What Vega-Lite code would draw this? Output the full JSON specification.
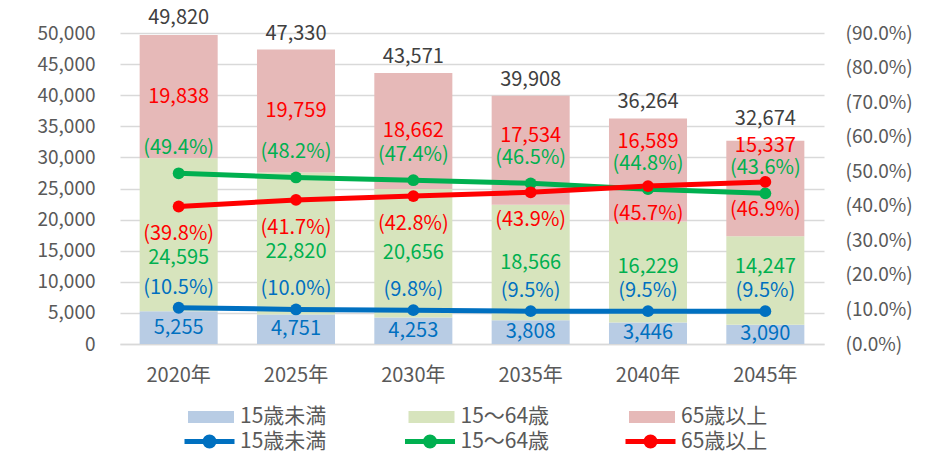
{
  "$schema": "https://vega.github.io/schema/vega-lite/v6.json",
  "width": 704,
  "height": 311,
  "autosize": {"type": "none"},
  "padding": {"left": 120, "top": 33, "right": 117, "bottom": 113},
  "background": "white",
  "config": {
    "font": "Noto Sans CJK JP",
    "view": {"stroke": null},
    "legend": {"padding": 0}
  },
  "datasets": {
    "pop": [
      {"year": "2020年", "group": "15歳未満", "order": 1, "value": 5255, "pct": 0.105},
      {"year": "2020年", "group": "15〜64歳", "order": 2, "value": 24595, "pct": 0.494},
      {"year": "2020年", "group": "65歳以上", "order": 3, "value": 19838, "pct": 0.398},
      {"year": "2025年", "group": "15歳未満", "order": 1, "value": 4751, "pct": 0.100},
      {"year": "2025年", "group": "15〜64歳", "order": 2, "value": 22820, "pct": 0.482},
      {"year": "2025年", "group": "65歳以上", "order": 3, "value": 19759, "pct": 0.417},
      {"year": "2030年", "group": "15歳未満", "order": 1, "value": 4253, "pct": 0.098},
      {"year": "2030年", "group": "15〜64歳", "order": 2, "value": 20656, "pct": 0.474},
      {"year": "2030年", "group": "65歳以上", "order": 3, "value": 18662, "pct": 0.428},
      {"year": "2035年", "group": "15歳未満", "order": 1, "value": 3808, "pct": 0.095},
      {"year": "2035年", "group": "15〜64歳", "order": 2, "value": 18566, "pct": 0.465},
      {"year": "2035年", "group": "65歳以上", "order": 3, "value": 17534, "pct": 0.439},
      {"year": "2040年", "group": "15歳未満", "order": 1, "value": 3446, "pct": 0.095},
      {"year": "2040年", "group": "15〜64歳", "order": 2, "value": 16229, "pct": 0.448},
      {"year": "2040年", "group": "65歳以上", "order": 3, "value": 16589, "pct": 0.457},
      {"year": "2045年", "group": "15歳未満", "order": 1, "value": 3090, "pct": 0.095},
      {"year": "2045年", "group": "15〜64歳", "order": 2, "value": 14247, "pct": 0.436},
      {"year": "2045年", "group": "65歳以上", "order": 3, "value": 15337, "pct": 0.469}
    ],
    "tot": [
      {"year": "2020年", "total": 49820},
      {"year": "2025年", "total": 47330},
      {"year": "2030年", "total": 43571},
      {"year": "2035年", "total": 39908},
      {"year": "2040年", "total": 36264},
      {"year": "2045年", "total": 32674}
    ]
  },
  "resolve": {"scale": {"y": "independent", "color": "independent"}},
  "layer": [
    {
      "encoding": {
        "x": {
          "field": "year", "type": "nominal",
          "scale": {"domain": ["2020年", "2025年", "2030年", "2035年", "2040年", "2045年"], "paddingInner": 0.335, "paddingOuter": 0.1675},
          "axis": {"title": null, "labelAngle": 0, "ticks": false, "tickSize": 0, "domain": true, "domainColor": "#d9d9d9", "domainWidth": 1.5, "labelPadding": 21, "labelFontSize": 20, "labelColor": "#595959", "grid": false}
        }
      },
      "layer": [
        {
          "data": {"name": "pop"},
          "mark": {"type": "bar"},
          "encoding": {
            "y": {
              "field": "value", "type": "quantitative", "stack": "zero",
              "scale": {"domain": [0, 50000]},
              "axis": {"title": null, "values": [0, 5000, 10000, 15000, 20000, 25000, 30000, 35000, 40000, 45000, 50000], "labelExpr": "format(datum.value, ',')", "labelOverlap": false, "labelBound": false, "grid": true, "gridColor": "#d9d9d9", "gridWidth": 1.5, "domain": false, "ticks": false, "tickSize": 0, "labelPadding": 25, "labelFontSize": 19, "labelColor": "#595959"}
            },
            "order": {"field": "order", "type": "quantitative"},
            "color": {
              "field": "group", "type": "nominal",
              "scale": {"domain": ["15歳未満", "15〜64歳", "65歳以上"], "range": ["#b8cce4", "#d7e4bd", "#e6b9b8"]},
              "legend": {"title": null, "orient": "none", "legendX": 68, "legendY": 361, "direction": "horizontal", "columns": 3, "gridAlign": "all", "columnPadding": 79.5, "symbolType": "M-1,-0.26H1V0.26H-1Z", "symbolSize": 2116, "symbolStrokeWidth": 0, "labelOffset": 6, "labelFontSize": 21, "labelColor": "#595959", "labelLimit": 300}
            }
          }
        },
        {
          "data": {"name": "pop"},
          "transform": [
            {"stack": "value", "groupby": ["year"], "sort": [{"field": "order", "order": "ascending"}], "as": ["v0", "v1"]},
            {"calculate": "datum.group == '15〜64歳' ? datum.pct : 0", "as": "gp"},
            {"calculate": "datum.group == '65歳以上' ? datum.pct : 0", "as": "rp"},
            {"calculate": "datum.group == '15歳未満' ? datum.pct : 0", "as": "bp"},
            {"joinaggregate": [
              {"op": "max", "field": "gp", "as": "greenPct"},
              {"op": "max", "field": "rp", "as": "redPct"},
              {"op": "max", "field": "bp", "as": "bluePct"}
            ], "groupby": ["year"]},
            {"calculate": "(datum.v0 + datum.v1) / 2", "as": "mid"},
            {"calculate": "datum.group == '65歳以上' ? max(datum.mid, datum.greenPct * 50000 / 0.9 + 7556) : (datum.group == '15〜64歳' ? max(min(datum.mid, datum.redPct * 50000 / 0.9 - 8360), datum.bluePct * 50000 / 0.9 + 7073) : datum.mid)", "as": "labelPos"},
            {"lookup": "year", "from": {"data": {"name": "tot"}, "key": "year", "fields": ["total"]}},
            {"calculate": "max(datum.total + 2572, datum.labelPos + 4341)", "as": "totalPos"}
          ],
          "layer": [
            {
              "mark": {"type": "text", "fontSize": 20, "baseline": "middle"},
              "encoding": {
                "y": {
                  "field": "labelPos", "type": "quantitative", "scale": {"domain": [0, 50000]},
                  "axis": {"title": null, "values": [0, 5000, 10000, 15000, 20000, 25000, 30000, 35000, 40000, 45000, 50000], "labelExpr": "format(datum.value, ',')", "labelOverlap": false, "labelBound": false, "grid": true, "gridColor": "#d9d9d9", "gridWidth": 1.5, "domain": false, "ticks": false, "tickSize": 0, "labelPadding": 25, "labelFontSize": 19, "labelColor": "#595959"}
                },
                "text": {"field": "value", "type": "quantitative", "format": ","},
                "fill": {
                  "field": "group", "type": "nominal",
                  "scale": {"domain": ["15歳未満", "15〜64歳", "65歳以上"], "range": ["#0070c0", "#00b050", "#ff0000"]},
                  "legend": null
                }
              }
            },
            {
              "transform": [{"filter": "datum.group == '65歳以上'"}],
              "mark": {"type": "text", "fontSize": 20, "baseline": "middle", "color": "#404040"},
              "encoding": {
                "y": {
                  "field": "totalPos", "type": "quantitative", "scale": {"domain": [0, 50000]},
                  "axis": {"title": null, "values": [0, 5000, 10000, 15000, 20000, 25000, 30000, 35000, 40000, 45000, 50000], "labelExpr": "format(datum.value, ',')", "labelOverlap": false, "labelBound": false, "grid": true, "gridColor": "#d9d9d9", "gridWidth": 1.5, "domain": false, "ticks": false, "tickSize": 0, "labelPadding": 25, "labelFontSize": 19, "labelColor": "#595959"}
                },
                "text": {"field": "total", "type": "quantitative", "format": ","}
              }
            }
          ]
        }
      ]
    },
    {
      "data": {"name": "pop"},
      "transform": [
        {"calculate": "'(' + format(datum.pct, '.1%') + ')'", "as": "pctLabel"}
      ],
      "encoding": {
        "x": {"field": "year", "type": "nominal"},
        "y": {
          "field": "pct", "type": "quantitative",
          "scale": {"domain": [0, 0.9]},
          "axis": {"orient": "right", "title": null, "values": [0, 0.1, 0.2, 0.3, 0.4, 0.5, 0.6, 0.7, 0.8, 0.9], "labelExpr": "'(' + format(datum.value, '.1%') + ')'", "labelOverlap": false, "labelBound": false, "grid": false, "domain": false, "ticks": false, "tickSize": 0, "labelPadding": 21, "labelFontSize": 19, "labelColor": "#595959"}
        }
      },
      "layer": [
        {
          "mark": {"type": "line", "strokeWidth": 5},
          "encoding": {
            "color": {
              "field": "group", "type": "nominal",
              "scale": {"domain": ["15歳未満", "15〜64歳", "65歳以上"], "range": ["#0070c0", "#00b050", "#ff0000"]},
              "legend": {"title": null, "orient": "none", "legendX": 62, "legendY": 381, "direction": "horizontal", "columns": 3, "gridAlign": "all", "columnPadding": 65.5, "symbolType": "M-1,0H1M0.18,0A0.18,0.18,0,1,1,-0.18,0A0.18,0.18,0,1,1,0.18,0M0.08,0A0.08,0.08,0,1,1,-0.08,0A0.08,0.08,0,1,1,0.08,0", "symbolSize": 2500, "symbolStrokeWidth": 5, "labelOffset": 3, "labelFontSize": 21, "labelColor": "#595959", "labelLimit": 300}
            }
          }
        },
        {
          "mark": {"type": "point", "filled": true, "size": 140, "opacity": 1},
          "encoding": {
            "color": {
              "field": "group", "type": "nominal",
              "scale": {"domain": ["15歳未満", "15〜64歳", "65歳以上"], "range": ["#0070c0", "#00b050", "#ff0000"]},
              "legend": {"title": null, "orient": "none", "legendX": 62, "legendY": 381, "direction": "horizontal", "columns": 3, "gridAlign": "all", "columnPadding": 65.5, "symbolType": "M-1,0H1M0.18,0A0.18,0.18,0,1,1,-0.18,0A0.18,0.18,0,1,1,0.18,0M0.08,0A0.08,0.08,0,1,1,-0.08,0A0.08,0.08,0,1,1,0.08,0", "symbolSize": 2500, "symbolStrokeWidth": 5, "labelOffset": 3, "labelFontSize": 21, "labelColor": "#595959", "labelLimit": 300}
            }
          }
        },
        {
          "transform": [{"filter": "datum.group == '15〜64歳'"}],
          "mark": {"type": "text", "fontSize": 20, "baseline": "middle", "dy": -25, "color": "#00b050"},
          "encoding": {"text": {"field": "pctLabel", "type": "nominal"}}
        },
        {
          "transform": [{"filter": "datum.group == '65歳以上'"}],
          "mark": {"type": "text", "fontSize": 20, "baseline": "middle", "dy": 28, "color": "#ff0000"},
          "encoding": {"text": {"field": "pctLabel", "type": "nominal"}}
        },
        {
          "transform": [{"filter": "datum.group == '15歳未満'"}],
          "mark": {"type": "text", "fontSize": 20, "baseline": "middle", "dy": -20, "color": "#0070c0"},
          "encoding": {"text": {"field": "pctLabel", "type": "nominal"}}
        }
      ]
    }
  ]
}
